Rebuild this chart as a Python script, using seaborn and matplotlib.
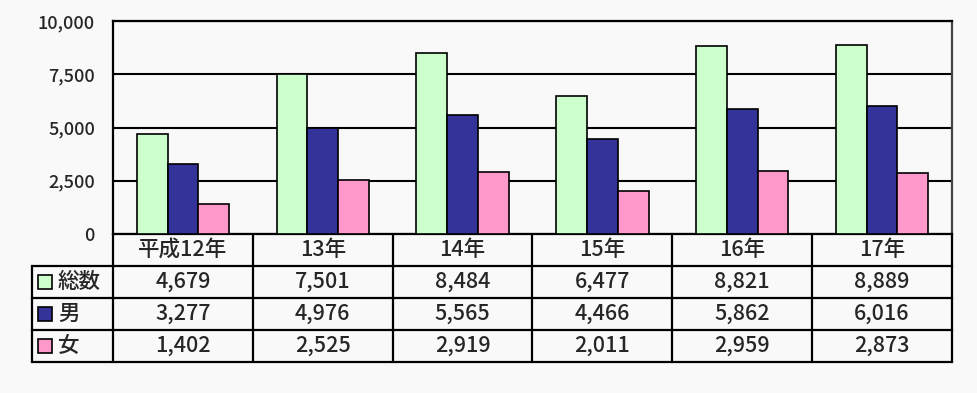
import matplotlib
matplotlib.use("Agg")
import matplotlib.pyplot as plt
from matplotlib.patches import Rectangle
from matplotlib.transforms import blended_transform_factory
import pandas as pd
import seaborn as sns

# データ
years = ["平成12年", "13年", "14年", "15年", "16年", "17年"]
series = ["総数", "男", "女"]
total = [4679, 7501, 8484, 6477, 8821, 8889]
male = [3277, 4976, 5565, 4466, 5862, 6016]
female = [1402, 2525, 2919, 2011, 2959, 2873]
colors = ["#CCFFCC", "#333399", "#FF99CC"]
yticks = [0, 2500, 5000, 7500, 10000]

values = [total, male, female]
df = pd.DataFrame({
    "年": years * len(series),
    "区分": [s for s in series for _ in years],
    "人数": total + male + female,
})

sns.set_style("white")
plt.rcParams["font.family"] = ["Noto Sans CJK JP", "DejaVu Sans"]
plt.rcParams["font.weight"] = "medium"

bg = "#f9f9f9"
W, H = 977, 393
fig = plt.figure(figsize=(W / 100, H / 100), dpi=100, facecolor=bg)

# plot area (pixels): x 113-952, y 21-234
ax = fig.add_axes([113 / W, 1 - 234 / H, (952 - 113) / W, (234 - 21) / H])
ax.set_facecolor(bg)
sns.barplot(data=df, x="年", y="人数", hue="区分", hue_order=series,
            palette=colors, saturation=1, width=0.66, edgecolor="black",
            linewidth=1.2, legend=False, zorder=3, ax=ax)

ax.set_xlim(-0.5, len(years) - 0.5)
ax.set_ylim(0, 10000)
ax.set_yticks(yticks)
ax.set_yticklabels([f"{v:,}" for v in yticks])
ax.set_xticks([])
ax.set_xlabel("")
ax.set_ylabel("")
ax.tick_params(axis="y", length=0, pad=13, labelsize=13)
ax.yaxis.grid(True, color="black", linewidth=1.5)
ax.set_axisbelow(True)
for side in ["left", "top", "right", "bottom"]:
    ax.spines[side].set_color("black")
    ax.spines[side].set_linewidth(1.6)
ax.spines["right"].set_color("#444444")

# データテーブル (Excel風)
trans = blended_transform_factory(ax.transData, ax.transAxes)
unit = (952 - 113) / len(years)          # px per category


def fy(px):
    return 1 - (px - 21) / (234 - 21)


x_left = -0.5 - 81 / unit
row_px = [234, 266, 298, 330, 362]
lw = 1.6
for yp in row_px[1:]:
    ax.plot([x_left, len(years) - 0.5], [fy(yp), fy(yp)], color="black",
             lw=lw, transform=trans, clip_on=False, solid_capstyle="projecting")
ax.plot([x_left, x_left], [fy(266), fy(362)], color="black", lw=lw,
        transform=trans, clip_on=False)
for i in range(len(years) + 1):
    ax.plot([i - 0.5, i - 0.5], [fy(234), fy(362)], color="black", lw=lw,
            transform=trans, clip_on=False)

fs = 15.5
for i, yr in enumerate(years):
    ax.text(i, fy(250), yr, ha="center", va="center", fontsize=fs,
            transform=trans, clip_on=False)

for r, (name, vals, col) in enumerate(zip(series, values, colors)):
    yc = (row_px[r + 1] + row_px[r + 2]) / 2
    ax.add_patch(Rectangle((x_left + 6 / unit, fy(yc + 7)), 14 / unit, 14 / 213,
                           facecolor=col, edgecolor="black", lw=1.2,
                           transform=trans, clip_on=False))
    ax.text(x_left + 26 / unit, fy(yc), name, ha="left", va="center",
            fontsize=fs, transform=trans, clip_on=False)
    for i, v in enumerate(vals):
        ax.text(i, fy(yc), f"{v:,}", ha="center", va="center", fontsize=fs,
                transform=trans, clip_on=False)

fig.savefig("out.png", dpi=100, facecolor=bg)
